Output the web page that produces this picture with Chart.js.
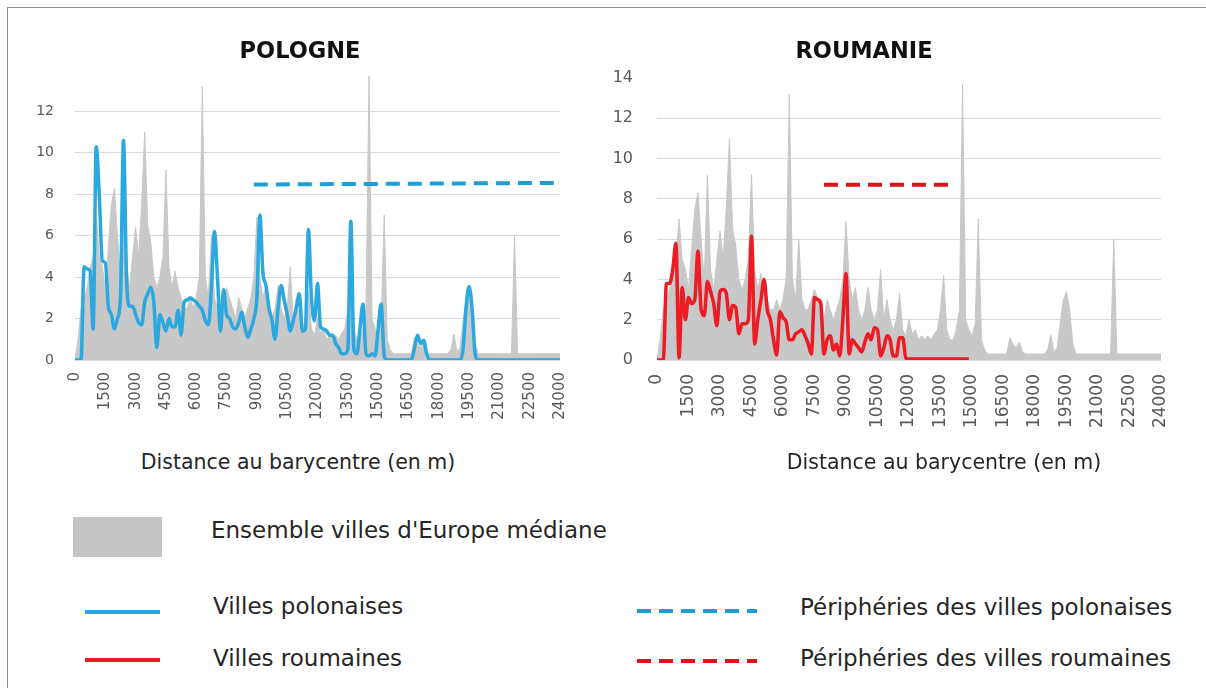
<!DOCTYPE html>
<html lang="fr">
<head>
<meta charset="utf-8">
<title>Pologne / Roumanie</title>
<script src="https://cdn.jsdelivr.net/npm/chart.js@4.4.1/dist/chart.umd.min.js"></script>
<style>
  body { margin: 0; background: #fff; font-family: 'DejaVu Sans', sans-serif; }
  #page { position: relative; width: 1206px; height: 688px; overflow: hidden; background: #fff; }
  .frame { position: absolute; left: 7px; top: 7px; width: 1230px; height: 720px; border: 1px solid #8f8f8f; }
  canvas { position: absolute; top: 0; }
  .txt { position: absolute; white-space: nowrap; color: #262626; }
  .c { transform: translate(-50%, -50%); }
  .l { transform: translateY(-50%); }
  .title { font-weight: bold; font-size: 22.5px; color: #111; }
  .axis { font-size: 20.5px; }
  .leg { font-size: 23px; }
  .swatch { position: absolute; }
</style>
</head>
<body>
<div id="page">
  <div class="frame"></div>

  <canvas id="pologne" width="590" height="440" style="left:0px"></canvas>
  <canvas id="roumanie" width="626" height="450" style="left:580px"></canvas>

  <div class="txt c title" style="left:300px; top:50px">POLOGNE</div>
  <div class="txt c title" style="left:864px; top:50px">ROUMANIE</div>
  <div class="txt c axis" style="left:298px; top:462px">Distance au barycentre (en m)</div>
  <div class="txt c axis" style="left:944px; top:462px">Distance au barycentre (en m)</div>

  <div class="swatch" style="left:73px; top:517px; width:89px; height:40px; background:#c4c4c4"></div>
  <div class="txt l leg" style="left:211px; top:530px">Ensemble villes d'Europe médiane</div>

  <div class="swatch" style="left:85px; top:610px; width:75px; height:4px; background:#2aa8df"></div>
  <div class="txt l leg" style="left:213px; top:606px">Villes polonaises</div>

  <div class="swatch" style="left:85px; top:658px; width:75px; height:4px; background:#ec1c24"></div>
  <div class="txt l leg" style="left:213px; top:658px">Villes roumaines</div>

  <div class="swatch" style="left:637px; top:609px; width:120px; height:4px; background:repeating-linear-gradient(90deg, #1c9fd5 0 14px, transparent 14px 22px)"></div>
  <div class="txt l leg" style="left:800px; top:607px">Périphéries des villes polonaises</div>

  <div class="swatch" style="left:637px; top:659px; width:120px; height:4px; background:repeating-linear-gradient(90deg, #d9141b 0 14px, transparent 14px 22px)"></div>
  <div class="txt l leg" style="left:800px; top:658px">Périphéries des villes roumaines</div>
</div>

<script>
// distance classes (m), one every 150 m
const distances = [];
for (let d = 0; d <= 24000; d += 150) distances.push(d);

const tickLabels = [0, 1500, 3000, 4500, 6000, 7500, 9000, 10500, 12000, 13500,
    15000, 16500, 18000, 19500, 21000, 22500, 24000];

// Ensemble villes d'Europe médiane (same curve behind both charts)
const ensembleEurope = [
    0, 1.0, 2.5, 3.0, 3.5, 4.5, 5.0, 7.0, 5.0, 4.5,
    3.5, 5.5, 7.5, 8.3, 6.0, 4.0, 9.2, 4.5, 3.5, 5.0,
    6.4, 5.0, 7.6, 11.0, 6.5, 5.7, 4.0, 3.5, 4.0, 5.0,
    9.2, 4.5, 3.5, 4.3, 3.5, 3.0, 2.5, 2.5, 3.0, 2.5,
    3.0, 4.0, 13.2, 4.0, 3.0, 6.0, 3.0, 2.5, 2.5, 3.0,
    3.5, 3.0, 2.5, 2.0, 3.0, 2.5, 2.0, 2.5, 3.0, 4.0,
    6.9, 4.0, 3.0, 3.6, 2.5, 2.0, 2.5, 3.6, 2.5, 2.0,
    2.5, 4.5, 2.0, 3.0, 2.0, 1.5, 2.0, 3.3, 1.5, 1.2,
    2.0, 1.3, 1.5, 1.0, 1.2, 1.0, 1.2, 1.0, 1.3, 1.5,
    2.5, 4.2, 1.5, 1.0, 1.0, 1.5, 2.5, 13.7, 2.0, 1.5,
    1.2, 1.8, 7.0, 1.0, 0.5, 0.3, 0.3, 0.3, 0.3, 0.3,
    0.3, 0.3, 1.1, 0.8, 0.6, 0.9, 0.4, 0.3, 0.3, 0.3,
    0.3, 0.3, 0.3, 0.3, 0.5, 1.25, 0.4, 0.6, 1.8, 3.0,
    3.4, 2.5, 0.8, 0.3, 0.3, 0.3, 0.3, 0.3, 0.3, 0.3,
    0.3, 0.3, 0.3, 0.3, 0.3, 6.0, 0.3, 0.3, 0.3, 0.3,
    0.3, 0.3, 0.3, 0.3, 0.3, 0.3, 0.3, 0.3, 0.3, 0.3,
    0.3
];

const villesPolonaises = [
    0, 0, 0, 4.5, 4.4, 4.3, 1.5, 10.3, 8.0, 4.8,
    4.7, 2.6, 2.2, 1.5, 2.0, 3.0, 10.6, 4.0, 2.6, 2.6,
    2.2, 1.8, 1.7, 2.8, 3.2, 3.5, 2.8, 0.6, 2.2, 1.8,
    1.4, 2.0, 1.6, 1.6, 2.4, 1.2, 2.8, 2.9, 3.0, 2.9,
    2.8, 2.6, 2.4, 1.9, 1.7, 3.5, 6.2, 4.0, 1.4, 3.4,
    2.2, 2.0, 1.6, 1.5, 1.8, 2.3, 1.6, 1.1, 1.5, 2.0,
    3.0, 7.0, 4.2, 3.6, 2.5, 1.9, 1.0, 2.5, 3.6, 2.9,
    2.2, 1.4, 1.9, 2.5, 3.2, 1.4, 1.5, 6.3, 3.0, 1.9,
    3.7, 1.6, 1.5, 1.4, 1.2, 1.2, 0.8, 0.6, 0.3, 0.3,
    0.5, 6.7, 0.5, 0.3, 1.5, 2.7, 0.3, 0.2, 0.3, 0.2,
    1.5, 2.7, 0.2, 0, 0, 0, 0, 0, 0, 0,
    0, 0, 0.6, 1.2, 0.8, 0.95, 0.3, 0, 0, 0,
    0, 0, 0, 0, 0, 0, 0, 0, 0.5, 2.5,
    3.55, 2.5, 0.3, 0, 0, 0, 0, 0, 0, 0,
    0, 0, 0, 0, 0, 0, 0, 0, 0, 0,
    0, 0, 0, 0, 0, 0, 0, 0, 0, 0,
    0
];

// stops at 14850 m
const villesRoumaines = [
    0, 0, 0, 3.8, 3.8, 4.5, 5.8, 0.1, 3.6, 2.0,
    3.1, 2.8, 3.0, 5.4, 2.5, 2.2, 3.9, 3.4, 2.8, 1.7,
    3.4, 3.5, 3.3, 2.0, 2.7, 2.6, 1.3, 1.8, 1.8, 2.0,
    6.15, 0.8, 2.0, 3.0, 4.0, 2.5, 2.0, 1.0, 0.25, 2.4,
    2.1, 1.9, 1.0, 1.0, 1.3, 1.4, 1.5, 1.2, 0.8, 0.3,
    3.1, 3.0, 2.8, 0.3, 1.0, 1.2, 0.5, 0.8, 0.2, 2.0,
    4.3, 0.3, 1.0, 0.8, 0.6, 0.4, 0.9, 1.3, 1.0, 1.6,
    1.5, 0.2, 0.6, 1.2, 1.0, 0.2, 0.2, 1.1, 1.1, 0.1,
    0.05, 0.05, 0.05, 0.05, 0.05, 0.05, 0.05, 0.05, 0.05, 0.05,
    0.05, 0.05, 0.05, 0.05, 0.05, 0.05, 0.05, 0.05, 0.05, 0.05
];

// peripheries: start and end of each dashed segment
const periphPolDist = [8850, 24000];
const periphPolVal = [8.47, 8.55];
const periphRouDist = [7950, 14100];
const periphRouVal = [8.7, 8.7];

function segment(dists, vals) {
    return distances.map((d) => {
        const k = dists.indexOf(d);
        return k < 0 ? null : vals[k];
    });
}

Chart.defaults.font.family = "'DejaVu Sans', sans-serif";

function buildChart(id, lines, cfg) {
    const datasets = [
        {
            data: lines.dashed,
            borderColor: lines.dashColor,
            borderWidth: 4,
            borderDash: [14, 8],
            spanGaps: true,
            fill: false,
            order: 1,
        },
        {
            data: lines.solid,
            borderColor: lines.color,
            borderWidth: 3.5,
            fill: false,
            cubicInterpolationMode: "monotone",
            order: 2,
        },
        {
            data: ensembleEurope,
            borderColor: "#c8c8c8",
            backgroundColor: "#c8c8c8",
            borderWidth: 1,
            fill: "origin",
            tension: 0,
            order: 3,
        },
    ];

    return new Chart(document.getElementById(id), {
        type: "line",
        data: { labels: distances, datasets: datasets },
        options: {
            responsive: false,
            animation: false,
            devicePixelRatio: 1,
            layout: { padding: cfg.padding },
            elements: { point: { radius: 0, hoverRadius: 0 } },
            plugins: { legend: { display: false }, tooltip: { enabled: false } },
            scales: {
                x: {
                    grid: { display: false, drawTicks: false },
                    border: { display: false },
                    ticks: {
                        autoSkip: false,
                        minRotation: 90,
                        maxRotation: 90,
                        padding: cfg.xPad,
                        color: "#595959",
                        font: { size: cfg.xFont },
                        callback: function (value, index) {
                            const d = distances[index];
                            return tickLabels.includes(d) ? String(d) : "";
                        },
                    },
                    afterFit: (s) => { s.height = cfg.xHeight; },
                },
                y: {
                    min: 0,
                    max: 14,
                    border: { display: false },
                    grid: {
                        drawTicks: false,
                        color: (c) => (c.tick && c.tick.value === 14 ? "rgba(0,0,0,0)" : "#d9d9d9"),
                    },
                    ticks: {
                        stepSize: 2,
                        padding: cfg.yPad,
                        color: "#595959",
                        font: { size: cfg.yFont },
                    },
                    afterBuildTicks: (s) => {
                        if (cfg.hideTop) s.ticks = s.ticks.filter((t) => t.value !== 14);
                    },
                    afterFit: (s) => { s.width = cfg.yWidth; },
                },
            },
        },
    });
}

buildChart("pologne", {
    solid: villesPolonaises,
    color: "#2aa8df",
    dashed: segment(periphPolDist, periphPolVal),
    dashColor: "#1c9fd5",
}, {
    padding: { left: 20, right: 24, top: 70, bottom: 0 },
    yWidth: 55, xHeight: 80, xPad: 12, yPad: 21, xFont: 15, yFont: 14, hideTop: true,
});

buildChart("roumanie", {
    solid: villesRoumaines,
    color: "#ec1c24",
    dashed: segment(periphRouDist, periphRouVal),
    dashColor: "#d9141b",
}, {
    padding: { left: 22, right: 45, top: 78, bottom: 0 },
    yWidth: 55, xHeight: 90, xPad: 14, yPad: 24, xFont: 17, yFont: 16, hideTop: false,
});
</script>
</body>
</html>
